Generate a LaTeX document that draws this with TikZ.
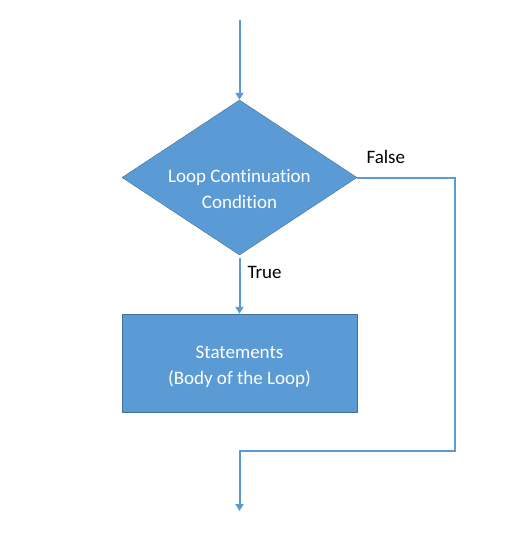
\documentclass[tikz,border=0pt]{standalone}
\usepackage{fontspec}
\setmainfont{Carlito}[Ligatures=NoCommon]
\usetikzlibrary{positioning, shapes.geometric, arrows.meta}
\definecolor{shapeColor}{RGB}{91,155,213}
\definecolor{borderColor}{RGB}{65,113,156}
\tikzstyle{flowChart} = [x = 1pt, y = -1pt]
\tikzstyle{chartFont} = [font=\fontsize{19}{26}\selectfont]
\tikzstyle{decisionStyle} = [diamond, draw=borderColor, fill=shapeColor, minimum width = 235pt, minimum height = 155pt, inner sep = 0pt]
\tikzstyle{blockStyle} = [rectangle, draw=borderColor, fill=shapeColor, minimum width = 235pt, minimum height = 98pt, inner sep = 0pt]
\tikzstyle{shapeText} = [chartFont, text=white, align=center]
\tikzstyle{branchText} = [chartFont, text=black, anchor=west]
\tikzstyle{flowLine} = [color=shapeColor, line width = 2pt]
\tikzstyle{flowArrow} = [flowLine, -{Triangle[width=8pt, length=7pt]}]

\begin{document}
\begin{tikzpicture}[flowChart]
  \useasboundingbox (0,0) rectangle (532,550);
  \coordinate (start) at (239.5,20);
  \node [decisionStyle] (condition) at (239.5,177.5) {};
  \node [shapeText] (conditionText) at ([yshift=-12pt]condition.center) {Loop Continuation\\Condition};
  \node [blockStyle] (statements) at (239.5,363) {};
  \node [shapeText] (statementsText) at ([yshift=-4pt]statements.center) {Statements\\(Body of the Loop)};
  \coordinate (loopRight) at (455,451);
  \coordinate (merge) at (239.5,451);
  \coordinate (exit) at (239.5,511);

  \draw [flowArrow] (start) -- (condition.north);
  \draw [flowArrow] ([yshift=-3pt]condition.south) -- (statements.north);
  \draw [flowArrow] (condition.east) -| (loopRight) -- (merge) -- (exit);

  \node [branchText] (trueLabel) at (244,272) {True};
  \node [branchText] (falseLabel) at (363,157) {False};
\end{tikzpicture}
\end{document}
